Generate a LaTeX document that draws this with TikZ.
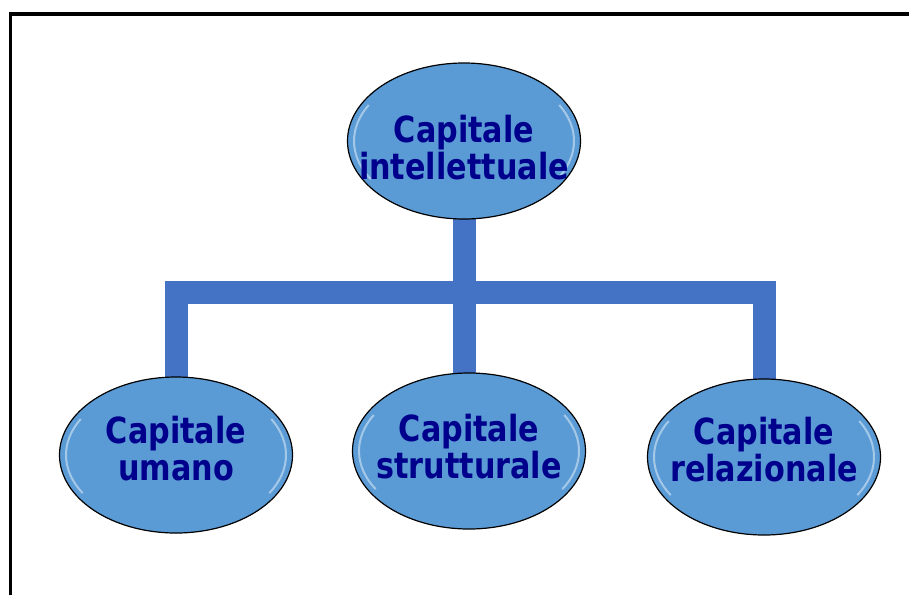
\documentclass[tikz,border=0pt]{standalone}
\usepackage{fontspec}
\newfontfamily\capfont[FakeStretch=0.84]{DejaVu Sans}
\usetikzlibrary{shapes.geometric,backgrounds}

\definecolor{ovalblue}{RGB}{91,155,213}
\definecolor{barblue}{RGB}{68,114,196}
\definecolor{textnavy}{RGB}{0,0,140}

\tikzset{
    capbox/.style={ellipse, draw=black, line width=1.2pt, fill=ovalblue,
        minimum width=233pt, minimum height=156pt, inner sep=0pt,
        path picture={
            \draw[white, opacity=.45, line width=2pt]
                (path picture bounding box.center) ++(148:110 and 72)
                arc[start angle=148, end angle=210, x radius=110, y radius=72];
            \draw[white, opacity=.45, line width=2pt]
                (path picture bounding box.center) ++(-30:110 and 72)
                arc[start angle=-30, end angle=32, x radius=110, y radius=72];
        }},
    captext/.style={align=center, text=textnavy, inner sep=0pt,
        font=\capfont\bfseries\fontsize{36}{37}\selectfont},
    bar/.style={barblue, line width=23pt},
    frame/.style={black, line width=3.5pt, line join=miter}
}

\begin{document}
\begin{tikzpicture}[x=1pt, y=-1pt]
    \useasboundingbox (0,0) rectangle (909,595);
    \draw[frame] (10.5,595) -- (10.5,14) -- (909,14);

    \node[capbox, label={[captext, yshift=-7pt]center:Capitale\\intellettuale}] (intel) at (464,141) {};
    \node[capbox, label={[captext, yshift=6pt]center:Capitale\\umano}] (umano) at (176,455) {};
    \node[capbox, label={[captext, yshift=4pt]center:Capitale\\strutturale}] (strutt) at (469,451) {};
    \node[capbox, label={[captext, yshift=7pt]center:Capitale\\relazionale}] (relaz) at (764,457) {};
    \coordinate (bus) at (464,292);

    \begin{pgfonlayer}{background}
        \draw[bar] (intel.center) -- (intel.center |- strutt.center);
        \draw[bar] (umano.center) |- (bus) -| (relaz.center);
    \end{pgfonlayer}
\end{tikzpicture}
\end{document}
